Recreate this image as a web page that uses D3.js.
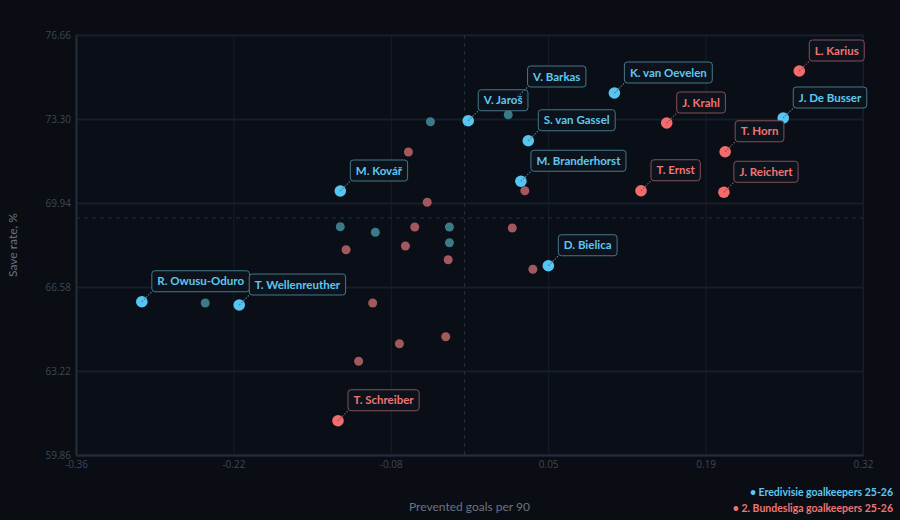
<!DOCTYPE html>
<html><head><meta charset="utf-8">
<script src="https://cdn.jsdelivr.net/npm/d3@7"></script>
<style>
html,body{margin:0;padding:0;background:#0a0d14;}
svg{display:block;font-family:"Open Sans","Noto Sans",sans-serif;}
</style></head>
<body>
<svg id="chart" width="900" height="520"></svg>
<script>
// ---- data ----
const xDomain = [-0.358, 0.3248];
const yDomain = [59.86, 76.66];
const xTickLabels = ["-0.36", "-0.22", "-0.08", "0.05", "0.19", "0.32"];
const yTickValues = [59.86, 63.22, 66.58, 69.94, 73.30, 76.66];
const yTickLabels = ["59.86", "63.22", "66.58", "69.94", "73.30", "76.66"];
const meanX = -0.021;
const meanY = 69.34;

const erediNames = ["R. Owusu-Oduro", "T. Wellenreuther", "M. Kovář", "V. Jaroš", "V. Barkas", "S. van Gassel", "M. Branderhorst", "D. Bielica", "K. van Oevelen", "J. De Busser"];
const erediX = [-0.3009, -0.2164, -0.1287, -0.0177, 0.0251, 0.0344, 0.0280, 0.0518, 0.1091, 0.2556];
const erediY = [65.99, 65.86, 70.42, 73.23, 74.18, 72.43, 70.81, 67.43, 74.34, 73.34];
const erediOtherX = [-0.2459, -0.1287, -0.0983, -0.0340, -0.0340, -0.0505, 0.0170];
const erediOtherY = [65.94, 68.99, 68.77, 68.98, 68.35, 73.19, 73.47];

const bundesNames = ["L. Karius", "J. Krahl", "T. Horn", "T. Ernst", "J. Reichert", "T. Schreiber"];
const bundesX = [0.2695, 0.1545, 0.2052, 0.1322, 0.2041, -0.1307];
const bundesY = [75.22, 73.14, 71.99, 70.43, 70.37, 61.23];
const bundesOtherX = [-0.0696, -0.0533, -0.0641, 0.0205, -0.1237, -0.0722, -0.0351, 0.0384, 0.0314, -0.1006, -0.0372, -0.0774, -0.1128];
const bundesOtherY = [71.98, 69.97, 68.98, 68.94, 68.07, 68.22, 67.67, 67.29, 70.43, 65.94, 64.59, 64.31, 63.61];

const seriesNames = ["Eredivisie goalkeepers 25-26", "2. Bundesliga goalkeepers 25-26"];

// ---- styles ----
const C = {
  blue: "#55c6f2", blueDim: "#3b7b88", blueText: "#5ec8f0", blueBorder: "#47788a",
  red: "#f46b6b", redDim: "#a2585c", redText: "#f07474", redBorder: "#83505a",
  grid: "#161f29", axis: "#232d39", tick: "#3d4756", title: "#6a7483", labelBg: "#0d131c"
};

const svg = d3.select("#chart");
const W = 900, H = 520;
const L = 76, R = 863, T = 35, B = 455;

const x = d3.scaleLinear().domain(xDomain).range([L, R]);
const y = d3.scaleLinear().domain(yDomain).range([B, T]);

svg.append("rect").attr("width", W).attr("height", H).attr("fill", "#0a0d14");
svg.append("rect").attr("x", L).attr("y", T).attr("width", R - L).attr("height", B - T)
  .attr("fill", "#0a0e16").attr("stroke", C.grid);

const xTickValues = d3.range(6).map(i => xDomain[0] + i * (xDomain[1] - xDomain[0]) / 5);

// grid
const gx = svg.append("g").attr("transform", `translate(0,${B})`)
  .call(d3.axisBottom(x).tickValues(xTickValues).tickSize(-(B - T)).tickFormat(""));
gx.select(".domain").remove();
gx.selectAll("line").attr("stroke", C.grid);
const gy = svg.append("g").attr("transform", `translate(${L},0)`)
  .call(d3.axisLeft(y).tickValues(yTickValues).tickSize(-(R - L)).tickFormat(""));
gy.select(".domain").remove();
gy.selectAll("line").attr("stroke", C.grid).attr("stroke-width", 2);

// axes
const ax = svg.append("g").attr("transform", `translate(0,${B})`)
  .call(d3.axisBottom(x).tickValues(xTickValues).tickSize(0).tickPadding(6)
    .tickFormat((d, i) => xTickLabels[i]));
ax.select(".domain").attr("stroke", C.axis).attr("stroke-width", 2);
ax.selectAll("text").attr("fill", C.tick).style("font-size", "10px").style("font-family", "'Open Sans',sans-serif");

const ay = svg.append("g").attr("transform", `translate(${L},0)`)
  .call(d3.axisLeft(y).tickValues(yTickValues).tickSize(0).tickPadding(5)
    .tickFormat((d, i) => yTickLabels[i]));
ay.select(".domain").attr("stroke", C.axis).attr("stroke-width", 2);
ay.selectAll("text").attr("fill", C.tick).style("font-size", "10px").style("font-family", "'Open Sans',sans-serif");

// mean lines
svg.append("line").attr("x1", x(meanX)).attr("x2", x(meanX)).attr("y1", T).attr("y2", B)
  .attr("stroke", "#27313d").attr("stroke-dasharray", "4,4");
svg.append("line").attr("x1", L).attr("x2", R).attr("y1", y(meanY)).attr("y2", y(meanY))
  .attr("stroke", "#27313d").attr("stroke-dasharray", "4,4");

// axis titles
svg.append("text").attr("x", (L + R) / 2).attr("y", 511).attr("text-anchor", "middle")
  .attr("fill", C.title).style("font-size", "12px").style("font-family", "Lato,sans-serif").text("Prevented goals per 90");
svg.append("text").attr("transform", `translate(17,${(T + B) / 2}) rotate(-90)`).attr("text-anchor", "middle")
  .attr("fill", C.title).style("font-size", "12px").style("font-family", "Lato,sans-serif").text("Save rate, %");

// dim points
const dims = [];
erediOtherX.forEach((v, i) => dims.push({ x: v, y: erediOtherY[i], c: C.blueDim }));
bundesOtherX.forEach((v, i) => dims.push({ x: v, y: bundesOtherY[i], c: C.redDim }));
svg.append("g").selectAll("circle").data(dims).join("circle")
  .attr("cx", d => x(d.x)).attr("cy", d => y(d.y)).attr("r", 4.5).attr("fill", d => d.c);

// highlighted
const hl = [];
erediNames.forEach((n, i) => hl.push({ n, x: erediX[i], y: erediY[i], c: C.blue, t: C.blueText, b: C.blueBorder }));
bundesNames.forEach((n, i) => hl.push({ n, x: bundesX[i], y: bundesY[i], c: C.red, t: C.redText, b: C.redBorder }));

svg.append("g").selectAll("circle").data(hl).join("circle")
  .attr("cx", d => x(d.x)).attr("cy", d => y(d.y)).attr("r", 5.8).attr("fill", d => d.c);

const lg = svg.append("g");
hl.forEach(d => {
  const px = x(d.x), py = y(d.y);
  const bx = px + 10, by = py - 10;
  lg.append("line").attr("x1", px).attr("y1", py).attr("x2", bx).attr("y2", by)
    .attr("stroke", d.b).attr("stroke-width", 1.2).attr("stroke-dasharray", "1.5,1.5");
  const g = lg.append("g");
  const rect = g.append("rect");
  const txt = g.append("text").attr("x", bx + 5.5).attr("y", by - 6.4)
    .attr("fill", d.t).style("font-size", "11.5px").style("font-weight", "700")
    .style("font-family", "Lato,sans-serif").text(d.n);
  const w = txt.node().getComputedTextLength();
  rect.attr("x", bx).attr("y", by - 21).attr("width", w + 11).attr("height", 21)
    .attr("rx", 3).attr("fill", C.labelBg).attr("stroke", d.b).attr("stroke-width", 1);
});

// legend
const leg = svg.append("g").style("font-size", "10.5px").style("font-weight", "700")
  .style("font-family", "Lato,sans-serif").attr("text-anchor", "end");
leg.append("text").attr("x", 893).attr("y", 496).attr("fill", C.blueText).text("• " + seriesNames[0]);
leg.append("text").attr("x", 893).attr("y", 512).attr("fill", C.redText).text("• " + seriesNames[1]);
</script>
</body></html>
